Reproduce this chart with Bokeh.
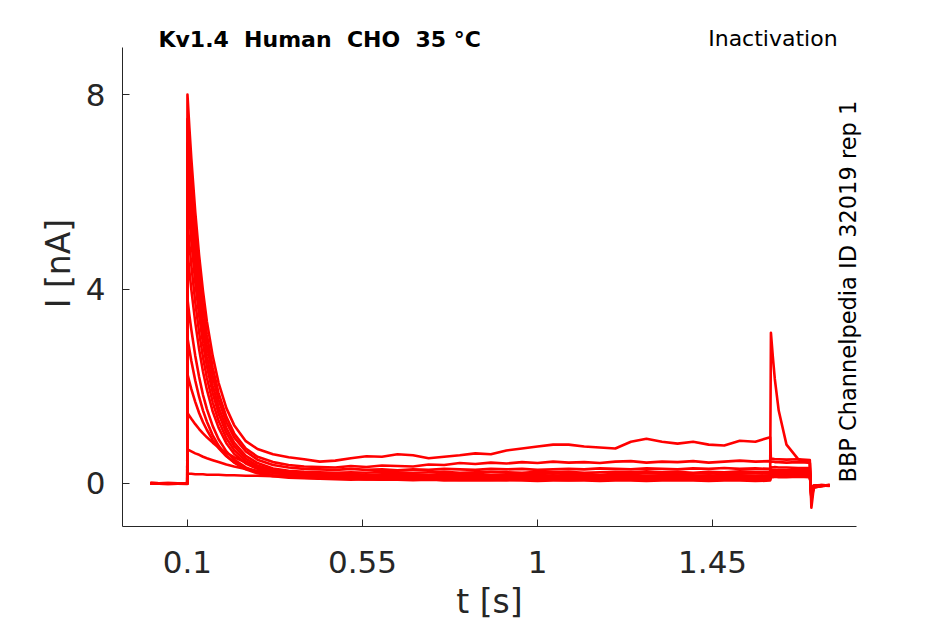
import math
from bokeh.plotting import figure
from bokeh.models import FixedTicker, Range1d, LinearAxis, Label
from bokeh.embed import file_html
from bokeh.resources import INLINE

# ---------------- data ----------------
# shared time base of all sweeps [s]
t_s = [0.005, 0.05, 0.0995,
       0.1, 0.105, 0.11, 0.12, 0.13, 0.14, 0.15, 0.165, 0.18, 0.2, 0.22, 0.25, 0.28, 0.32, 0.36, 0.4,
       0.44, 0.48, 0.52, 0.56, 0.60, 0.64, 0.68, 0.72, 0.76, 0.80,
       0.84, 0.88, 0.92, 0.96, 1.00, 1.04, 1.08, 1.12, 1.16, 1.20,
       1.24, 1.28, 1.32, 1.36, 1.40, 1.44, 1.48, 1.52, 1.56, 1.598,
       1.6, 1.605, 1.61, 1.62, 1.64, 1.67, 1.7,
       1.702, 1.704, 1.71, 1.73, 1.751]

# current of each sweep [nA]
trace_a = ([0.0, 0.01, 0.0] +
           [8.0, 7.31, 6.68, 5.59, 4.69, 3.95, 3.33, 2.62, 2.07, 1.55, 1.20, 0.87, 0.71, 0.60, 0.54, 0.50] +
           [0.45, 0.47, 0.52, 0.56, 0.55, 0.60, 0.58, 0.52, 0.55, 0.58,
            0.62, 0.60, 0.68, 0.72, 0.76, 0.80, 0.80, 0.76, 0.74, 0.72,
            0.86, 0.92, 0.86, 0.82, 0.86, 0.80, 0.78, 0.88, 0.86, 0.95] +
           [0.50, 0.51, 0.50, 0.50, 0.49, 0.50, 0.48] +
           [-0.02, -0.35, -0.08, -0.05, -0.04])
trace_b = ([0.01, 0.0, 0.01] +
           [7.5, 6.84, 6.24, 5.21, 4.36, 3.64, 3.06, 2.38, 1.86, 1.37, 1.03, 0.72, 0.55, 0.44, 0.38, 0.35] +
           [0.34, 0.33, 0.36, 0.34, 0.37, 0.36, 0.35, 0.39, 0.38, 0.42,
            0.40, 0.43, 0.41, 0.44, 0.42, 0.45, 0.43, 0.44, 0.42, 0.45,
            0.46, 0.43, 0.45, 0.44, 0.46, 0.43, 0.45, 0.47, 0.45, 0.46] +
           [0.44, 0.45, 0.44, 0.44, 0.43, 0.44, 0.43] +
           [-0.02, -0.30, -0.07, -0.04, -0.05])
trace_c = ([0.0, -0.01, 0.0] +
           [7.0, 6.38, 5.82, 4.86, 4.06, 3.39, 2.85, 2.21, 1.72, 1.26, 0.95, 0.66, 0.49, 0.38, 0.33, 0.30] +
           [0.29, 0.28, 0.30, 0.28, 0.29, 0.27, 0.29, 0.28, 0.30, 0.29,
            0.28, 0.30, 0.29, 0.30, 0.28, 0.29, 0.30, 0.29, 0.31, 0.30,
            0.29, 0.31, 0.30, 0.29, 0.31, 0.30, 0.32, 0.30, 0.31, 0.30] +
           [0.34, 0.33, 0.34, 0.33, 0.33, 0.32, 0.32] +
           [0.0, -0.50, -0.09, -0.05, -0.03])
trace_d = ([0.0, 0.0, 0.01] +
           [6.5, 5.92, 5.40, 4.50, 3.75, 3.13, 2.62, 2.02, 1.57, 1.14, 0.84, 0.57, 0.42, 0.31, 0.26, 0.24] +
           [0.23, 0.22, 0.23, 0.22, 0.24, 0.23, 0.22, 0.23, 0.24, 0.22,
            0.23, 0.24, 0.23, 0.22, 0.24, 0.23, 0.24, 0.22, 0.23, 0.24,
            0.23, 0.25, 0.23, 0.24, 0.22, 0.24, 0.23, 0.25, 0.24, 0.24] +
           [0.28, 0.27, 0.28, 0.27, 0.27, 0.28, 0.27] +
           [-0.01, -0.28, -0.06, -0.04, -0.04])
trace_e = ([0.01, 0.0, 0.0] +
           [6.0, 5.47, 4.98, 4.15, 3.46, 2.88, 2.41, 1.86, 1.44, 1.04, 0.77, 0.51, 0.37, 0.27, 0.23, 0.21] +
           [0.20, 0.19, 0.20, 0.18, 0.19, 0.20, 0.19, 0.18, 0.20, 0.19,
            0.20, 0.18, 0.19, 0.20, 0.19, 0.21, 0.19, 0.20, 0.18, 0.20,
            0.19, 0.21, 0.20, 0.19, 0.20, 0.21, 0.19, 0.20, 0.21, 0.20] +
           [0.25, 0.24, 0.25, 0.24, 0.24, 0.25, 0.24] +
           [-0.01, -0.26, -0.07, -0.05, -0.03])
trace_f = ([0.0, 0.01, 0.0] +
           [5.4, 4.92, 4.48, 3.73, 3.11, 2.59, 2.17, 1.67, 1.29, 0.93, 0.69, 0.46, 0.33, 0.25, 0.20, 0.19] +
           [0.17, 0.16, 0.17, 0.16, 0.15, 0.17, 0.16, 0.17, 0.15, 0.16,
            0.17, 0.16, 0.15, 0.17, 0.16, 0.17, 0.16, 0.15, 0.17, 0.16,
            0.17, 0.16, 0.17, 0.15, 0.16, 0.17, 0.16, 0.17, 0.16, 0.17] +
           [0.22, 0.21, 0.22, 0.22, 0.21, 0.22, 0.21] +
           [-0.01, -0.24, -0.06, -0.04, -0.04])
trace_g = ([0.0, 0.0, -0.01] +
           [4.8, 4.37, 3.99, 3.32, 2.76, 2.30, 1.93, 1.48, 1.15, 0.83, 0.61, 0.41, 0.30, 0.22, 0.18, 0.17] +
           [0.15, 0.14, 0.15, 0.13, 0.14, 0.15, 0.14, 0.13, 0.15, 0.14,
            0.13, 0.15, 0.14, 0.15, 0.13, 0.14, 0.15, 0.14, 0.13, 0.15,
            0.14, 0.15, 0.13, 0.14, 0.15, 0.14, 0.13, 0.15, 0.14, 0.14] +
           [0.20, 0.20, 0.19, 0.20, 0.20, 0.19, 0.20] +
           [-0.01, -0.22, -0.06, -0.05, -0.04])
trace_h = ([0.01, 0.0, 0.0] +
           [3.8, 3.46, 3.16, 2.63, 2.19, 1.82, 1.53, 1.18, 0.91, 0.66, 0.49, 0.33, 0.24, 0.17, 0.14, 0.13] +
           [0.12, 0.11, 0.12, 0.12, 0.11, 0.12, 0.13, 0.11, 0.12, 0.11,
            0.12, 0.13, 0.12, 0.11, 0.12, 0.12, 0.11, 0.13, 0.12, 0.11,
            0.12, 0.13, 0.12, 0.11, 0.12, 0.12, 0.13, 0.11, 0.12, 0.12] +
           [0.19, 0.18, 0.18, 0.19, 0.18, 0.18, 0.18] +
           [-0.01, -0.20, -0.05, -0.04, -0.03])
trace_i = ([0.0, -0.01, 0.0] +
           [3.0, 2.75, 2.52, 2.12, 1.78, 1.50, 1.27, 0.99, 0.78, 0.57, 0.43, 0.29, 0.21, 0.15, 0.12, 0.11] +
           [0.10, 0.11, 0.10, 0.09, 0.10, 0.11, 0.10, 0.10, 0.09, 0.11,
            0.10, 0.10, 0.11, 0.09, 0.10, 0.10, 0.11, 0.10, 0.09, 0.10,
            0.11, 0.10, 0.10, 0.09, 0.11, 0.10, 0.10, 0.11, 0.10, 0.10] +
           [0.17, 0.17, 0.16, 0.17, 0.16, 0.17, 0.16] +
           [0.0, -0.18, -0.05, -0.04, -0.04])
trace_j = ([0.0, 0.0, 0.0] +
           [2.25, 2.09, 1.94, 1.68, 1.45, 1.26, 1.10, 0.89, 0.73, 0.56, 0.44, 0.31, 0.24, 0.17, 0.14, 0.12] +
           [0.11, 0.10, 0.10, 0.11, 0.09, 0.10, 0.10, 0.11, 0.10, 0.09,
            0.10, 0.11, 0.10, 0.10, 0.09, 0.11, 0.10, 0.10, 0.11, 0.09,
            0.10, 0.10, 0.11, 0.10, 0.09, 0.10, 0.11, 0.10, 0.10, 0.10] +
           [0.16, 0.16, 0.15, 0.16, 0.15, 0.16, 0.15] +
           [0.0, -0.16, -0.05, -0.03, -0.04])
trace_k = ([0.01, 0.0, 0.0] +
           [1.45, 1.39, 1.33, 1.22, 1.12, 1.03, 0.95, 0.84, 0.74, 0.63, 0.54, 0.43, 0.35, 0.26, 0.21, 0.17] +
           [0.10, 0.09, 0.08, 0.09, 0.08, 0.09, 0.08, 0.09, 0.07, 0.08,
            0.09, 0.08, 0.07, 0.08, 0.09, 0.08, 0.07, 0.08, 0.09, 0.08,
            0.08, 0.07, 0.09, 0.08, 0.08, 0.07, 0.08, 0.09, 0.08, 0.08] +
           [0.15, 0.14, 0.15, 0.14, 0.14, 0.15, 0.14] +
           [0.0, -0.14, -0.05, -0.04, -0.03])
trace_l = ([0.0, 0.0, 0.01] +
           [0.70, 0.68, 0.66, 0.62, 0.59, 0.55, 0.52, 0.48, 0.44, 0.39, 0.35, 0.30, 0.26, 0.22, 0.18, 0.15] +
           [0.13, 0.11, 0.10, 0.09, 0.08, 0.08, 0.07, 0.08, 0.07, 0.06,
            0.07, 0.06, 0.07, 0.06, 0.05, 0.06, 0.07, 0.06, 0.05, 0.06,
            0.06, 0.05, 0.06, 0.07, 0.06, 0.05, 0.06, 0.06, 0.05, 0.06] +
           [0.14, 0.13, 0.14, 0.13, 0.13, 0.14, 0.13] +
           [0.0, -0.12, -0.04, -0.03, -0.04])
trace_m = ([0.0, 0.0, 0.0] +
           [0.20, 0.20, 0.20, 0.19, 0.19, 0.19, 0.18, 0.18, 0.18, 0.17, 0.17, 0.16, 0.16, 0.15, 0.15, 0.14] +
           [0.14, 0.13, 0.14, 0.13, 0.13, 0.12, 0.13, 0.12, 0.13, 0.12,
            0.12, 0.13, 0.12, 0.11, 0.12, 0.12, 0.11, 0.12, 0.12, 0.11,
            0.12, 0.11, 0.12, 0.12, 0.11, 0.12, 0.11, 0.12, 0.12, 0.12] +
           [3.10, 2.60, 2.15, 1.50, 0.80, 0.50, 0.42] +
           [0.0, -0.30, -0.07, -0.05, -0.04])

sweeps = [trace_a, trace_b, trace_c, trace_d, trace_e, trace_f, trace_g,
          trace_h, trace_i, trace_j, trace_k, trace_l, trace_m]

x_ticks = [0.1, 0.55, 1, 1.45]
x_tick_labels = ["0.1", "0.55", "1", "1.45"]
y_ticks = [0, 4, 8]
y_tick_labels = ["0", "4", "8"]

title_left = "Kv1.4\u00a0 Human\u00a0 CHO\u00a0 35 °C"
title_right = "Inactivation"
side_note = "BBP Channelpedia ID 32019 rep 1"
x_label = "t [s]"
y_label = "I [nA]"

AX = "#262626"
FONT = "DejaVu Sans"
X_LO, X_HI = -0.067, 1.82          # axis limits
Y_LO, Y_HI = -0.885, 8.97
Y_CANVAS_TOP = 9.937                # data value at the top edge of the page

# ---------------- main axes ----------------
p = figure(width=945, height=624,
           x_range=Range1d(X_LO, X_HI), y_range=Range1d(Y_LO, Y_CANVAS_TOP),
           output_backend="svg", toolbar_location=None,
           min_border_left=122, min_border_right=89,
           min_border_top=0, min_border_bottom=98)
p.outline_line_color = None
p.xgrid.visible = False
p.ygrid.visible = False
p.background_fill_color = "white"
p.border_fill_color = "white"

for ys in sweeps:
    p.line(t_s, ys, line_color="#ff0000", line_width=2.6, line_join="round")

for ax in (p.xaxis[0], p.yaxis[0]):
    ax.axis_line_color = AX
    ax.axis_line_width = 1
    ax.major_tick_line_color = AX
    ax.major_tick_in = 7
    ax.major_tick_out = 0
    ax.minor_tick_line_color = None
    ax.major_label_text_font = FONT
    ax.major_label_text_font_size = "31px"
    ax.major_label_text_color = AX
    ax.axis_label_text_font = FONT
    ax.axis_label_text_font_size = "33px"
    ax.axis_label_text_font_style = "normal"
    ax.axis_label_text_color = AX

p.xaxis.ticker = FixedTicker(ticks=x_ticks)
p.xaxis.major_label_overrides = {v: s for v, s in zip(x_ticks, x_tick_labels)}
p.xaxis.major_label_standoff = 24
p.xaxis.axis_label = x_label
p.xaxis.axis_label_standoff = 6
p.xaxis.bounds = (X_LO, X_HI)
p.yaxis.ticker = FixedTicker(ticks=y_ticks)
p.yaxis.major_label_overrides = {v: s for v, s in zip(y_ticks, y_tick_labels)}
p.yaxis.major_label_standoff = 17
p.yaxis.axis_label = y_label
p.yaxis.axis_label_standoff = 5
p.yaxis.bounds = (Y_LO, Y_HI)

# vertical note on the right, reading upwards: the single label of a bare right axis
note_y = 0.02
note_ax = LinearAxis(ticker=FixedTicker(ticks=[note_y]),
                     major_label_overrides={note_y: side_note},
                     axis_line_color=None, major_tick_line_color=None,
                     minor_tick_line_color=None, major_tick_in=0, major_tick_out=0,
                     major_label_orientation=math.pi / 2,
                     major_label_standoff=-8,
                     major_label_text_font=FONT, major_label_text_font_size="22.5px",
                     major_label_text_color="black")
p.add_layout(note_ax, "right")

# titles above the axes box (inside the extended frame, so never clipped)
p.add_layout(Label(x=0.0254, y=9.13, text=title_left, text_font=FONT,
                   text_font_size="22px", text_font_style="bold", text_color="black",
                   text_align="left", text_baseline="alphabetic"))
p.add_layout(Label(x=1.7714, y=9.155, text=title_right, text_font=FONT,
                   text_font_size="22px", text_color="black",
                   text_align="right", text_baseline="alphabetic"))

open("out.html", "w").write(file_html(p, INLINE))
